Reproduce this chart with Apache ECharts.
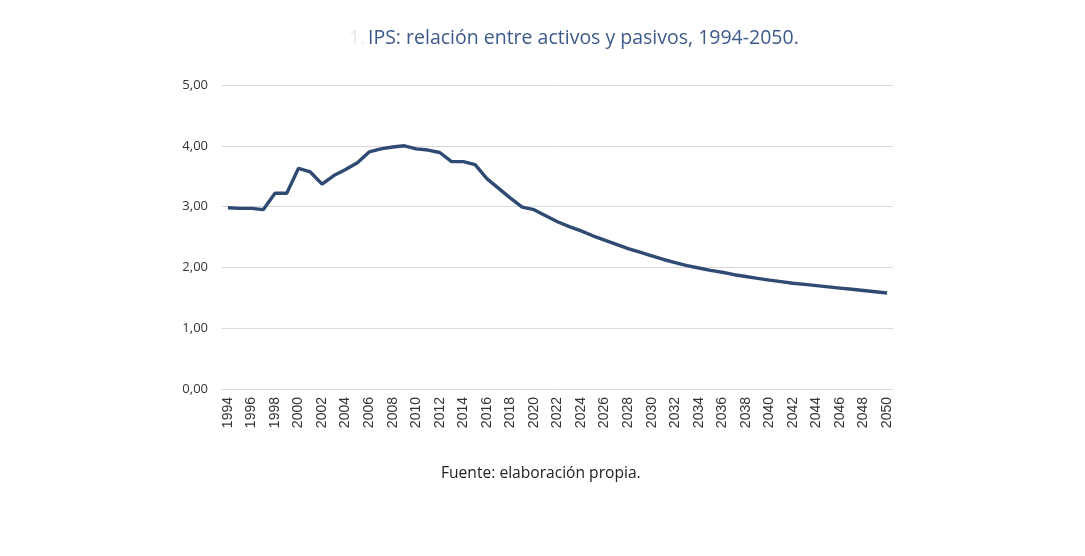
<!DOCTYPE html>
<html>
<head>
<meta charset="utf-8">
<script src="https://cdn.jsdelivr.net/npm/echarts@6/dist/echarts.min.js"></script>
<style>
  html, body { margin: 0; padding: 0; background: #fff; }
  #chart { width: 1085px; height: 556px; }
</style>
</head>
<body>
<div id="chart"></div>
<script>
// años 1994-2050
var years = [];
for (var y = 1994; y <= 2050; y++) years.push(String(y));

// relación activos / pasivos
var ratio = [
  2.98, 2.97, 2.97, 2.95, 3.22, 3.22, 3.63, 3.57, 3.37, 3.51,
  3.61, 3.72, 3.90, 3.95, 3.98, 4.00, 3.95, 3.93, 3.89, 3.74,
  3.74, 3.69, 3.46, 3.30, 3.14, 2.99, 2.95, 2.85, 2.75, 2.67,
  2.60, 2.52, 2.45, 2.38, 2.31, 2.25, 2.19, 2.13, 2.08, 2.03,
  1.99, 1.95, 1.92, 1.88, 1.85, 1.82, 1.79, 1.765, 1.74, 1.72,
  1.70, 1.68, 1.66, 1.64, 1.62, 1.60, 1.58
];

var titleText = 'IPS: relación entre activos y pasivos, 1994-2050.';
var sourceText = 'Fuente: elaboración propia.';

(function(){
    var chart = echarts.init(document.getElementById('chart'));

    var option = {
        animation: false,
        backgroundColor: '#fff',
        textStyle: { fontFamily: 'Open Sans' },
        graphic: [
            {
                type: 'text', left: 349, top: 28,
                style: { text: '1.', fill: '#e4e8ef', fontSize: 19.5, fontFamily: 'Open Sans' }
            },
            {
                type: 'text', left: 368, top: 28,
                style: { text: titleText, fill: '#3d5a8a', fontSize: 19.5, fontFamily: 'Open Sans' }
            },
            {
                type: 'text', left: 441, top: 466,
                style: { text: sourceText, fill: '#222', fontSize: 15.6, fontFamily: 'Open Sans' }
            }
        ],
        grid: { left: 222, right: 192, top: 85, bottom: 167 },
        xAxis: {
            type: 'category',
            data: years,
            boundaryGap: true,
            axisLine: { lineStyle: { color: '#d9d9d9', width: 1 } },
            axisTick: { show: false },
            axisLabel: {
                rotate: 90,
                interval: 1,
                color: '#333',
                fontSize: 14,
                fontFamily: 'Liberation Sans',
                margin: 8
            }
        },
        yAxis: {
            type: 'value',
            min: 0,
            max: 5,
            interval: 1,
            axisLine: { show: false },
            axisTick: { show: false },
            splitLine: { lineStyle: { color: '#d9d9d9', width: 1 } },
            axisLabel: {
                color: '#333',
                fontSize: 13,
                margin: 14,
                formatter: function (v) { return v.toFixed(2).replace('.', ','); }
            }
        },
        series: [
            {
                name: 'IPS',
                type: 'line',
                data: ratio,
                symbol: 'none',
                lineStyle: { color: '#2f4b73', width: 3.4 }
            }
        ]
    };

    chart.setOption(option);
})();
</script>
</body>
</html>
